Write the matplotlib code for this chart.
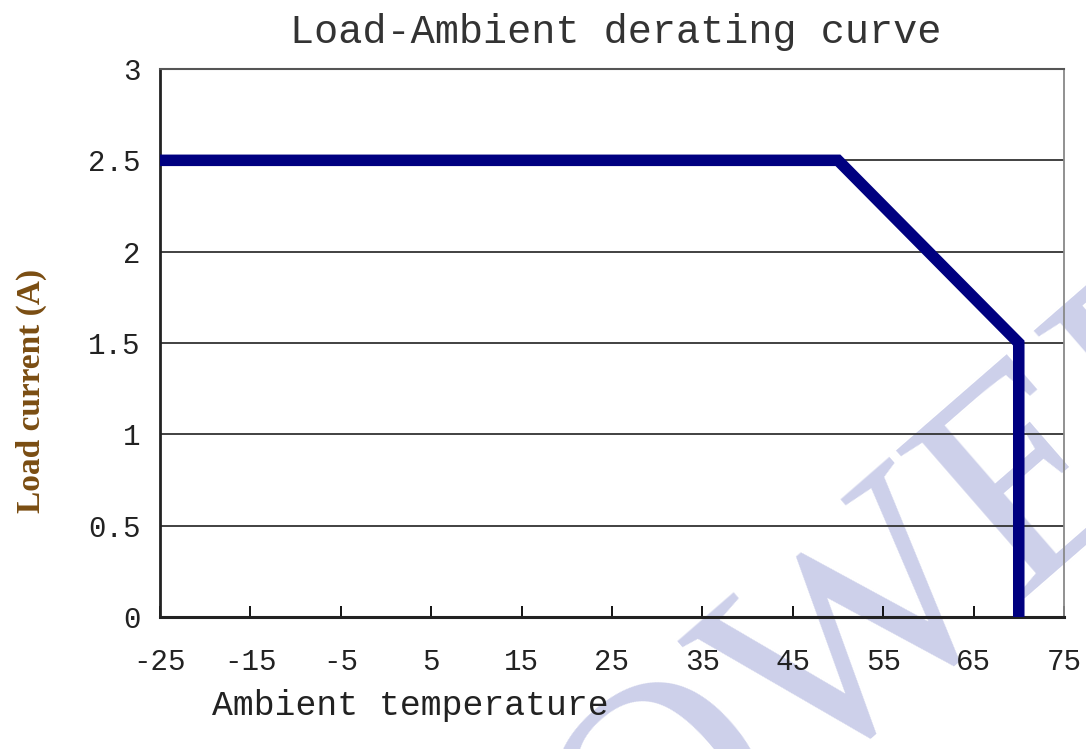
import matplotlib
matplotlib.use("Agg")
import matplotlib.pyplot as plt

# derating curve corner points
temp = [-25, 50, 70, 70]
current = [2.5, 2.5, 1.5, 0]

x_ticks = [-25, -15, -5, 5, 15, 25, 35, 45, 55, 65, 75]
y_ticks = [0, 0.5, 1, 1.5, 2, 2.5, 3]
y_labels = ["0", "0.5", "1", "1.5", "2", "2.5", "3"]

mono = "Liberation Mono"

fig = plt.figure(figsize=(10.86, 7.49), dpi=100)
ax = fig.add_axes([0.1473, 0.1762, 0.8324, 0.7317])
ax.set_facecolor("none")

# watermark behind everything
fig.text(0.795, 0.15, "POWER", fontfamily="Liberation Serif", fontsize=215,
         color="#cdd0ea", rotation=41, ha="center", va="center", zorder=-1)

for y in y_ticks[1:-1]:
    ax.axhline(y, color="#333333", linewidth=1.3, zorder=1)

ax.plot(temp, current, color="#000080", linewidth=8.3, solid_joinstyle="miter",
        solid_capstyle="butt", zorder=3)

ax.set_xlim(-25, 75)
ax.set_ylim(0, 3)
ax.set_xticks(x_ticks)
ax.set_yticks(y_ticks)
ax.set_xticklabels([str(t) for t in x_ticks], fontfamily=mono, fontsize=21,
                   color="#222222")
ax.set_yticklabels(y_labels, fontfamily=mono, fontsize=21, color="#222222")
ax.tick_params(axis="x", direction="in", length=8, width=1.3, pad=22)
ax.tick_params(axis="y", length=0, pad=14)

ax.spines["left"].set_linewidth(2)
ax.spines["bottom"].set_linewidth(2.2)
ax.spines["left"].set_color("#222222")
ax.spines["bottom"].set_color("#222222")
ax.spines["top"].set_color("#555555")
ax.spines["right"].set_color("#888888")
ax.spines["top"].set_linewidth(1.5)
ax.spines["right"].set_linewidth(1.3)

fig.text(0.567, 0.957, "Load-Ambient derating curve", fontfamily=mono,
         fontsize=29, color="#333333", ha="center", va="center")
fig.text(0.378, 0.058, "Ambient temperature", fontfamily=mono, fontsize=25,
         color="#222222", ha="center", va="center")
fig.text(0.029, 0.478, "Load current (A)", fontfamily="Liberation Serif",
         fontweight="bold", fontsize=24, color="#7a4d12", rotation=90,
         ha="center", va="center")

fig.savefig("out.png", dpi=100)
